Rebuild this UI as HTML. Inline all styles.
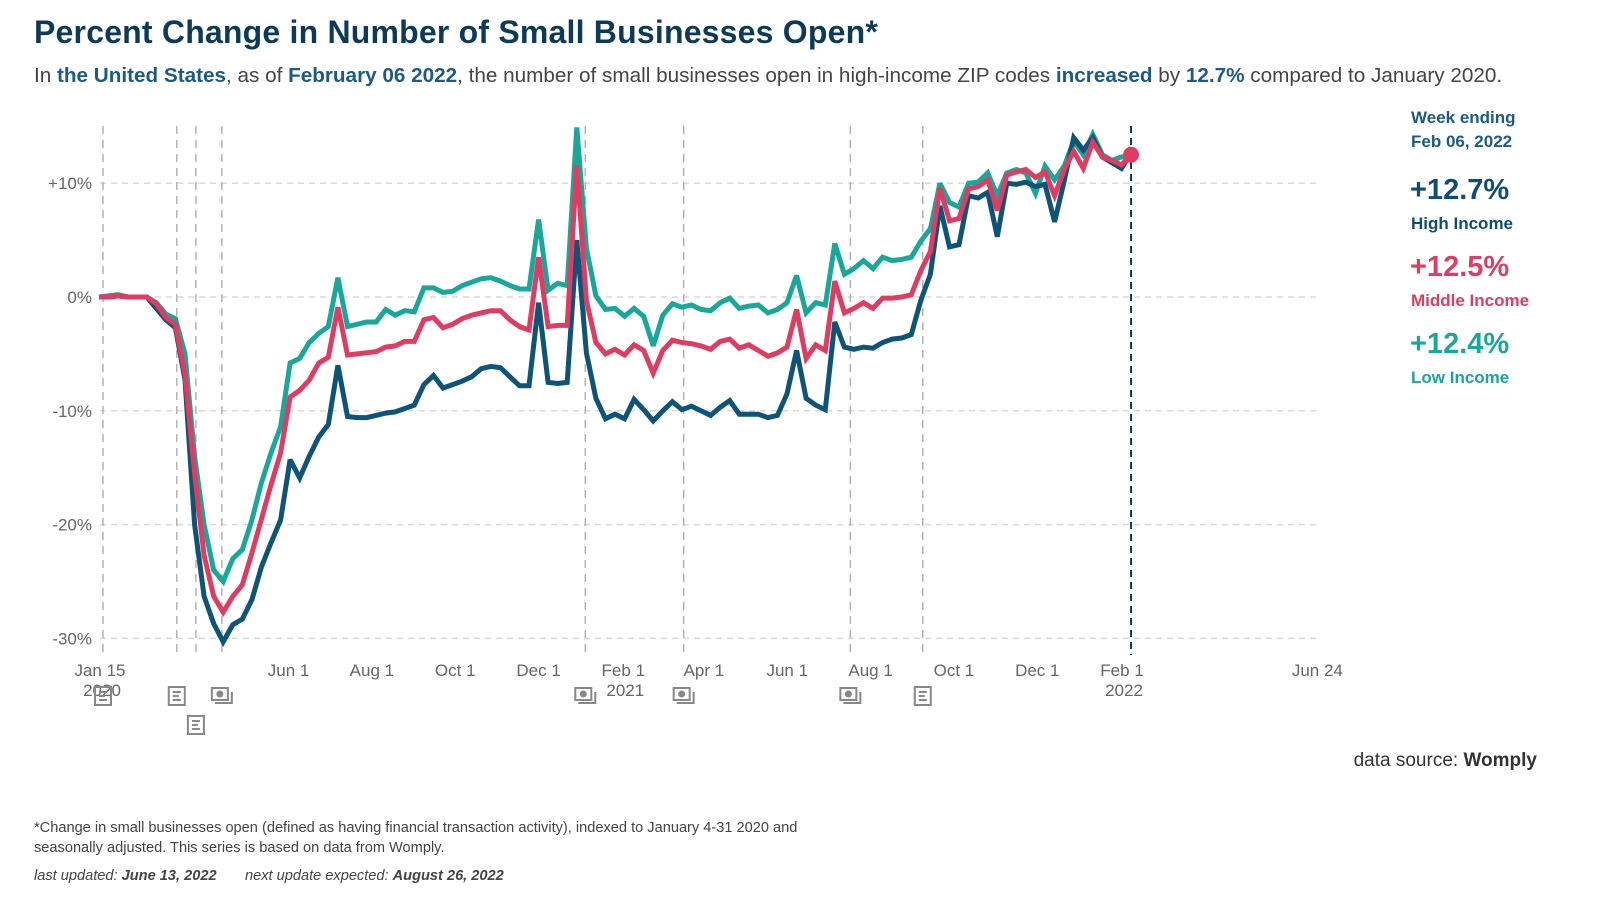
<!DOCTYPE html>
<html><head><meta charset="utf-8">
<style>
body{margin:0;width:1600px;height:918px;background:#fff;font-family:"Liberation Sans",sans-serif;overflow:hidden;position:relative}
.t{position:absolute;white-space:nowrap}
</style></head>
<body>
<div class="t" style="left:34px;top:14px;font-size:32px;font-weight:bold;color:#0e3a5a;letter-spacing:0.2px">Percent Change in Number of Small Businesses Open*</div>
<div class="t" style="left:34px;top:64px;font-size:20.7px;color:#444">In <b style="color:#1c5a88">the United States</b>, as of <b style="color:#1c5a88">February 06 2022</b>, the number of small businesses open in high-income ZIP codes <b style="color:#1c5a88">increased</b> by <b style="color:#1c5a88">12.7%</b> compared to January 2020.</div>

<div class="t" style="left:1411px;top:106px;font-size:17px;font-weight:bold;color:#1c5a88;line-height:24px">Week ending<br>Feb 06, 2022</div>
<div class="t" style="left:1410px;top:174px;font-size:29px;font-weight:bold;color:#0d4f74">+12.7%</div>
<div class="t" style="left:1411px;top:214px;font-size:17px;font-weight:bold;color:#0d4f74">High Income</div>
<div class="t" style="left:1410px;top:251px;font-size:29px;font-weight:bold;color:#e23b61">+12.5%</div>
<div class="t" style="left:1411px;top:291px;font-size:17px;font-weight:bold;color:#e23b61">Middle Income</div>
<div class="t" style="left:1410px;top:328px;font-size:29px;font-weight:bold;color:#16a99a">+12.4%</div>
<div class="t" style="left:1411px;top:368px;font-size:17px;font-weight:bold;color:#16a99a">Low Income</div>

<div class="t" style="right:63px;top:750px;font-size:19px;color:#333">data source: <b>Womply</b></div>
<div class="t" style="left:34px;top:818px;font-size:14.6px;color:#444;line-height:20px">*Change in small businesses open (defined as having financial transaction activity), indexed to January 4-31 2020 and<br>seasonally adjusted. This series is based on data from Womply.</div>
<div class="t" style="left:34px;top:868px;font-size:14.6px;color:#444;font-style:italic">last updated: <b>June 13, 2022</b>&nbsp;&nbsp;&nbsp;&nbsp;&nbsp;&nbsp;&nbsp;next update expected: <b>August 26, 2022</b></div>

<svg id="chart" width="1600" height="918" style="position:absolute;left:0;top:0" xmlns="http://www.w3.org/2000/svg"></svg>

<script>
const yTicks = [10, 0, -10, -20, -30];
const yTickLabels = ["+10%", "0%", "-10%", "-20%", "-30%"];
const xTickLabels = ["Jan 15", "Jun 1", "Aug 1", "Oct 1", "Dec 1", "Feb 1", "Apr 1", "Jun 1", "Aug 1", "Oct 1", "Dec 1", "Feb 1", "Jun 24"];
const xTickSub = ["2020", "", "", "", "", "2021", "", "", "", "", "", "2022", ""];
const xTickDays = [0, 138, 199, 260, 321, 383, 442, 503, 564, 625, 686, 748, 891];
const eventDays = [0, 54, 68, 87, 353, 425, 547, 600];
const eventIcons = ["doc", "doc", "doc", "money", "money", "money", "money", "doc"];
const highIncome = [0,0,0.1,0,0,0,-1,-2,-2.7,-7.3,-20,-26.3,-28.7,-30.3,-28.8,-28.3,-26.6,-23.7,-21.6,-19.6,-14.3,-15.9,-14,-12.3,-11.2,-6,-10.5,-10.6,-10.6,-10.4,-10.2,-10.1,-9.8,-9.5,-7.7,-6.9,-8,-7.7,-7.4,-7,-6.3,-6.1,-6.2,-7,-7.8,-7.8,-0.5,-7.5,-7.6,-7.5,
 5,-4.9,-8.9,-10.7,-10.3,-10.7,-9.0,-9.9,-10.9,-10,-9.2,-9.9,-9.6,-10,-10.4,-9.7,-9.1,-10.3,-10.3,-10.3,-10.6,-10.4,-8.5,-4.7,-8.9,-9.5,-9.9,-2.2,-4.4,-4.6,-4.4,-4.5,-4.0,-3.7,-3.6,-3.3,-0.3,2.0,8.0,4.4,4.6,8.9,8.7,9.2,5.3,10.0,9.9,10.1,9.7,9.9,6.6,10.2,14.0,12.9,14.0,12.3,11.8,11.3,12.7];
const middleIncome = [0,0,0.1,0,0,0,-0.6,-1.8,-2.4,-6.8,-15.5,-22.7,-26.3,-27.7,-26.3,-25.3,-22.5,-19.5,-16.5,-13.7,-8.8,-8.2,-7.3,-5.8,-5.3,-0.9,-5.1,-5.0,-4.9,-4.8,-4.4,-4.3,-3.9,-3.9,-2.0,-1.8,-2.7,-2.4,-1.9,-1.6,-1.4,-1.2,-1.2,-2.0,-2.6,-2.9,3.5,-2.6,-2.5,-2.5,
 11.6,-0.3,-4,-5,-4.6,-5.1,-4.2,-4.7,-6.7,-4.7,-3.8,-4,-4.1,-4.3,-4.6,-3.9,-3.7,-4.5,-4.2,-4.7,-5.2,-4.9,-4.4,-1.1,-5.4,-4.2,-4.7,1.4,-1.4,-1.0,-0.5,-1.0,-0.1,-0.1,0,0.2,2.3,4.0,9.6,6.7,6.9,9.5,9.7,10.3,7.6,10.7,11,11.2,10.5,11,8.9,11.2,12.8,11.3,13.6,12.3,12,11.6,12.5];
const lowIncome = [0,0.1,0.2,0,0,0,-0.5,-1.5,-1.9,-5,-14,-20,-24,-25,-23,-22.2,-19.6,-16.3,-13.7,-11.4,-5.8,-5.4,-4,-3.2,-2.6,1.7,-2.6,-2.4,-2.2,-2.2,-1.1,-1.6,-1.2,-1.3,0.8,0.8,0.4,0.5,1.0,1.3,1.6,1.7,1.4,1.0,0.7,0.7,6.8,0.6,1.2,1.0,
 14.9,4.3,0.1,-1.1,-1.0,-1.7,-1.0,-1.7,-4.3,-1.6,-0.6,-0.9,-0.7,-1.1,-1.2,-0.5,-0.1,-1.0,-0.8,-0.7,-1.4,-1.1,-0.5,1.9,-1.4,-0.5,-0.7,4.7,2.0,2.5,3.2,2.5,3.5,3.2,3.3,3.5,4.9,6.0,10.0,8.3,7.9,10.0,10.1,10.9,8.9,10.9,11.2,10.9,9.1,11.5,10.3,11.5,13.7,12.5,14.3,12.5,12.0,12.3,12.4];

const NS = "http://www.w3.org/2000/svg";
const svg = document.getElementById('chart');
const X0 = 103, PXD = 1.3663;
const xDay = d => X0 + d * PXD;
const xIdx = i => 99 + i * 9.556;
const yVal = v => 297 - v * 11.38;
function mk(tag, attrs, parent) {
  const e = document.createElementNS(NS, tag);
  for (const k in attrs) e.setAttribute(k, attrs[k]);
  (parent || svg).appendChild(e);
  return e;
}
yTicks.forEach((t, i) => {
  const g = mk('line', {x1: 100, x2: 1320, y1: yVal(t), y2: yVal(t), stroke: '#d9d9d9', 'stroke-width': 1.5, 'stroke-dasharray': '6 5'});
  
  
  const tx = mk('text', {x: 92, y: yVal(t) + 6, 'text-anchor': 'end', 'font-size': 17, fill: '#666', 'font-family': 'Liberation Sans, sans-serif'});
  tx.textContent = yTickLabels[i];
  
  
});
xTickLabels.forEach((l, i) => {
  const x = xDay(xTickDays[i]);
  const tx = mk('text', {x: x - 3, y: 676, 'text-anchor': 'middle', 'font-size': 17, fill: '#666', 'font-family': 'Liberation Sans, sans-serif'});
  tx.textContent = l;
  
  
  if (xTickSub[i]) {
    const s = mk('text', {x: x - 1, y: 696, 'text-anchor': 'middle', 'font-size': 17, fill: '#666', 'font-family': 'Liberation Sans, sans-serif'});
    s.textContent = xTickSub[i];
    
    
  }
});
eventDays.forEach((d, i) => {
  const x = xDay(d);
  const l = mk('line', {x1: x, x2: x, y1: 126, y2: 655, stroke: '#b3b3b3', 'stroke-width': 1.5, 'stroke-dasharray': '8 6'});
  
  
  const iy = (i === 2) ? 725 : 696;
  const g = mk('g', {transform: `translate(${x},${iy})`, stroke: '#888', 'stroke-width': 2, fill: 'none'});
  
  
  if (eventIcons[i] === 'doc') {
    mk('rect', {x: -8, y: -9, width: 16, height: 18}, g);
    mk('path', {d: 'M-4 -4H4M-4 0H2M-4 4H4'}, g);
  } else {
    mk('rect', {x: -10, y: -8, width: 16, height: 12}, g);
    mk('circle', {cx: -2, cy: -2, r: 2.5, fill: '#888'}, g);
    mk('path', {d: 'M-7 7H10V-4'}, g);
  }
});
const cw = mk('line', {x1: xIdx(108), x2: xIdx(108), y1: 126, y2: 655, stroke: '#0e3a5a', 'stroke-width': 2, 'stroke-dasharray': '7 5'});


function series(data, color, name) {
  const d = data.map((v, i) => (i ? 'L' : 'M') + xIdx(i).toFixed(1) + ' ' + yVal(Math.min(v, 14.9)).toFixed(1)).join('');
  const p = mk('path', {d: d, fill: 'none', stroke: color, 'stroke-width': 5, 'stroke-linejoin': 'miter', 'stroke-miterlimit': 3});
  
  
}
series(lowIncome, '#16a99a', 'low-income-line');
series(highIncome, '#0d5479', 'high-income-line');
series(middleIncome, '#e23b61', 'middle-income-line');
const dot = mk('circle', {cx: xIdx(108), cy: yVal(middleIncome[108]), r: 8, fill: '#e23b61'});


</script>
</body></html>
